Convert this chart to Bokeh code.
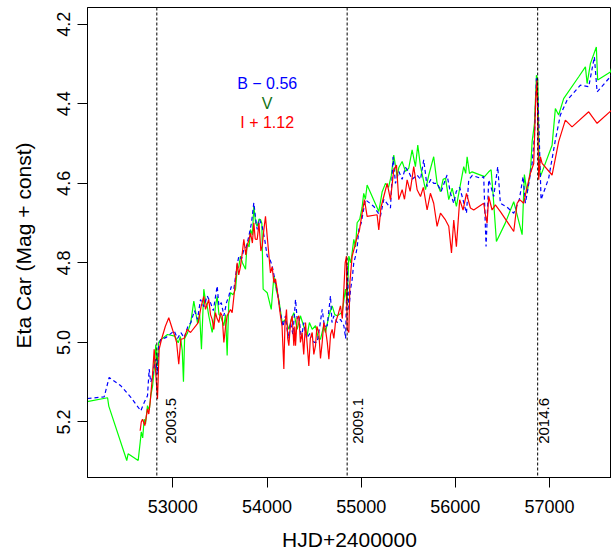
import numpy as np
from bokeh.plotting import figure
from bokeh.models import Range1d, FixedTicker, PrintfTickFormatter, Span, Label
from bokeh.embed import file_html
from bokeh.resources import INLINE

# ---------------- data (plotted values: B-0.56, V, I+1.12) ----------------
v_hjd = [52091, 52307, 52320, 52511, 52525, 52632, 52654, 52665, 52680, 52696, 52710, 52731,
         52750, 52766, 52785, 52802, 52819, 52835, 52850, 52872, 52943, 53021, 53057, 53080,
         53100, 53113, 53125, 53156, 53190, 53223, 53262, 53285, 53304, 53329, 53350, 53365,
         53382, 53418, 53440, 53453, 53471, 53490, 53506, 53542, 53560, 53577, 53594, 53613,
         53640, 53666, 53683, 53700, 53719, 53740, 53772, 53789, 53810, 53825, 53845, 53860,
         53880, 53896, 53915, 53931, 53945, 53959, 54002, 54045, 54073, 54100, 54126, 54161,
         54196, 54232, 54260, 54285, 54320, 54355, 54390, 54426, 54450, 54480, 54515, 54545,
         54568, 54600, 54621, 54657, 54692, 54720, 54745, 54798, 54833, 54850, 54869, 54890,
         54922, 54940, 54957, 54985, 55010, 55027, 55045, 55063, 55187, 55223, 55258, 55290,
         55320, 55346, 55382, 55400, 55435, 55470, 55505, 55541, 55576, 55601, 55630, 55683,
         55718, 55770, 55806, 55842, 55870, 55895, 55930, 55966, 56011, 56053, 56089, 56110,
         56125, 56150, 56178, 56310, 56354, 56380, 56401, 56436, 56530, 56620, 56709, 56733,
         56762, 56800, 56815, 56840, 56861, 56875, 56890, 56903, 57027, 57062, 57097, 57150,
         57310, 57381, 57399, 57434, 57497, 57511, 57646, 57665]
v_mag = [5.149, 5.139, 5.160, 5.297, 5.280, 5.297, 5.250, 5.225, 5.240, 5.193, 5.205, 5.159,
         5.170, 5.134, 5.110, 5.068, 5.005, 5.060, 5.000, 4.993, 4.980, 4.984, 5.001, 4.985,
         5.020, 5.099, 4.990, 4.976, 4.950, 4.896, 4.951, 4.930, 5.017, 4.866, 4.900, 4.909,
         4.933, 4.975, 4.940, 4.908, 4.884, 4.930, 4.933, 4.958, 4.930, 5.033, 4.900, 4.875,
         4.880, 4.866, 4.816, 4.810, 4.783, 4.800, 4.816, 4.750, 4.760, 4.716, 4.730, 4.658,
         4.700, 4.708, 4.690, 4.691, 4.700, 4.866, 4.875, 4.917, 4.833, 4.870, 4.892, 4.950,
         4.942, 4.967, 4.940, 4.925, 4.967, 4.933, 4.960, 4.983, 4.950, 4.967, 4.958, 4.990,
         4.992, 4.960, 4.975, 4.933, 4.908, 4.930, 4.933, 4.925, 4.866, 4.900, 4.783, 4.800,
         4.741, 4.760, 4.699, 4.690, 4.660, 4.625, 4.640, 4.604, 4.671, 4.621, 4.600, 4.610,
         4.580, 4.529, 4.583, 4.560, 4.545, 4.570, 4.562, 4.516, 4.558, 4.504, 4.558, 4.616,
         4.579, 4.533, 4.600, 4.621, 4.590, 4.587, 4.641, 4.612, 4.658, 4.604, 4.558, 4.575,
         4.533, 4.575, 4.571, 4.583, 4.571, 4.566, 4.629, 4.746, 4.700, 4.646, 4.729, 4.578,
         4.625, 4.560, 4.495, 4.450, 4.328, 4.340, 4.540, 4.583, 4.504, 4.412, 4.428, 4.387,
         4.332, 4.307, 4.349, 4.299, 4.257, 4.340, 4.320, 4.306]

b_hjd = [52094, 52271, 52324, 52448, 52554, 52660, 52680, 52696, 52731, 52749, 52765, 52784,
         52800, 52819, 52835, 52850, 52872, 52925, 53014, 53050, 53085, 53120, 53160, 53191,
         53230, 53262, 53294, 53330, 53365, 53400, 53430, 53471, 53489, 53515, 53542, 53570,
         53595, 53620, 53648, 53680, 53701, 53730, 53754, 53780, 53807, 53835, 53860, 53880,
         53896, 53920, 53949, 53975, 54002, 54030, 54055, 54090, 54115, 54143, 54170, 54196,
         54225, 54250, 54275, 54303, 54320, 54338, 54365, 54391, 54420, 54462, 54500, 54533,
         54560, 54586, 54610, 54639, 54674, 54690, 54710, 54745, 54780, 54816, 54835, 54851,
         54870, 54887, 54905, 54921, 54940, 54958, 54975, 55000, 55045, 55134, 55204, 55240,
         55311, 55339, 55364, 55400, 55435, 55470, 55505, 55540, 55594, 55630, 55664, 55700,
         55740, 55770, 55806, 55850, 55912, 55948, 55983, 56010, 56046, 56080, 56118, 56142,
         56180, 56266, 56301, 56326, 56354, 56380, 56407, 56450, 56478, 56550, 56620, 56680,
         56719, 56744, 56780, 56815, 56840, 56861, 56880, 56910, 56991, 57062, 57115, 57186,
         57328, 57416, 57476, 57505, 57660]
b_mag = [5.141, 5.137, 5.088, 5.109, 5.138, 5.172, 5.160, 5.151, 5.134, 5.067, 5.100, 5.088,
         5.060, 5.042, 5.080, 5.010, 4.992, 4.988, 4.971, 4.990, 4.975, 4.988, 4.960, 4.950,
         4.920, 4.942, 4.892, 4.910, 4.883, 4.900, 4.920, 4.858, 4.908, 4.900, 4.933, 4.900,
         4.883, 4.860, 4.866, 4.810, 4.783, 4.790, 4.766, 4.760, 4.733, 4.700, 4.649, 4.690,
         4.716, 4.690, 4.708, 4.740, 4.783, 4.790, 4.808, 4.850, 4.880, 4.925, 4.960, 4.933,
         4.990, 4.950, 4.980, 4.892, 4.940, 4.933, 4.990, 4.950, 4.990, 4.975, 5.000, 5.000,
         4.960, 4.917, 4.960, 4.958, 4.883, 4.950, 4.933, 4.950, 4.942, 4.958, 4.990, 4.808,
         4.920, 4.867, 4.840, 4.800, 4.783, 4.760, 4.716, 4.700, 4.641, 4.658, 4.683, 4.640,
         4.662, 4.533, 4.600, 4.570, 4.590, 4.560, 4.571, 4.590, 4.579, 4.590, 4.541, 4.608,
         4.590, 4.600, 4.600, 4.620, 4.579, 4.625, 4.650, 4.620, 4.610, 4.640, 4.675, 4.591,
         4.580, 4.587, 4.583, 4.759, 4.591, 4.610, 4.633, 4.558, 4.650, 4.660, 4.675, 4.640,
         4.583, 4.650, 4.600, 4.550, 4.480, 4.336, 4.400, 4.641, 4.587, 4.491, 4.428, 4.391,
         4.353, 4.357, 4.282, 4.370, 4.328]

i_hjd = [52653, 52665, 52678, 52703, 52731, 52745, 52759, 52784, 52802, 52837, 52855, 52880,
         52920, 52957, 53000, 53021, 53040, 53063, 53085, 53120, 53152, 53188, 53241, 53270,
         53300, 53329, 53347, 53382, 53400, 53418, 53435, 53453, 53470, 53489, 53506, 53524,
         53542, 53560, 53577, 53612, 53630, 53655, 53683, 53700, 53719, 53740, 53754, 53775,
         53789, 53810, 53825, 53845, 53860, 53875, 53896, 53915, 53935, 53949, 53965, 53984,
         54002, 54020, 54037, 54055, 54073, 54090, 54108, 54125, 54143, 54160, 54179, 54190,
         54207, 54220, 54232, 54250, 54267, 54285, 54295, 54303, 54320, 54338, 54355, 54373,
         54390, 54409, 54425, 54444, 54460, 54480, 54497, 54515, 54530, 54550, 54568, 54586,
         54603, 54621, 54640, 54657, 54675, 54692, 54710, 54727, 54755, 54780, 54800, 54816,
         54830, 54844, 54851, 54869, 54880, 54904, 54930, 54957, 54980, 55010, 55035, 55063,
         55169, 55187, 55210, 55240, 55276, 55311, 55346, 55375, 55399, 55435, 55460, 55488,
         55520, 55558, 55594, 55630, 55660, 55700, 55735, 55770, 55806, 55842, 55895, 55930,
         55959, 55983, 56011, 56046, 56082, 56118, 56160, 56195, 56301, 56319, 56337, 56354,
         56390, 56425, 56478, 56620, 56656, 56683, 56726, 56754, 56797, 56832, 56853, 56868,
         56885, 56903, 56921, 57027, 57097, 57168, 57239, 57416, 57505, 57660]
i_mag = [5.222, 5.200, 5.193, 5.209, 5.167, 5.180, 5.151, 5.084, 5.017, 5.142, 5.017, 4.992,
         4.960, 4.938, 4.970, 4.984, 5.000, 5.055, 4.992, 4.990, 4.967, 4.975, 4.959, 4.950,
         4.910, 4.884, 4.917, 4.892, 4.930, 4.942, 4.967, 4.925, 4.940, 4.950, 4.925, 4.933,
         5.000, 4.960, 4.933, 4.917, 4.925, 4.870, 4.800, 4.830, 4.808, 4.770, 4.741, 4.780,
         4.758, 4.740, 4.725, 4.750, 4.699, 4.740, 4.741, 4.700, 4.770, 4.758, 4.720, 4.683,
         4.733, 4.780, 4.825, 4.810, 4.850, 4.840, 4.867, 4.900, 4.933, 4.960, 5.067, 4.960,
         4.917, 4.990, 5.008, 4.950, 4.933, 5.008, 4.960, 5.008, 4.940, 4.933, 5.000, 4.975,
         5.030, 4.950, 5.000, 5.059, 4.990, 4.975, 5.030, 5.008, 4.960, 4.975, 5.040, 5.000,
         4.950, 4.967, 5.000, 5.042, 4.980, 4.967, 4.990, 4.950, 4.930, 4.908, 4.940, 4.867,
         4.800, 4.783, 4.967, 4.975, 4.850, 4.783, 4.760, 4.734, 4.720, 4.675, 4.641, 4.683,
         4.679, 4.717, 4.660, 4.633, 4.600, 4.641, 4.566, 4.554, 4.641, 4.616, 4.640, 4.591,
         4.620, 4.558, 4.616, 4.633, 4.610, 4.667, 4.625, 4.650, 4.708, 4.675, 4.692, 4.708,
         4.775, 4.692, 4.759, 4.641, 4.667, 4.625, 4.662, 4.667, 4.650, 4.679, 4.700, 4.633,
         4.667, 4.654, 4.671, 4.721, 4.650, 4.641, 4.650, 4.617, 4.575, 4.550, 4.391, 4.341,
         4.591, 4.533, 4.550, 4.579, 4.495, 4.441, 4.458, 4.420, 4.449, 4.416]

x_ticks = [53000, 54000, 55000, 56000, 57000]
y_ticks = [4.2, 4.4, 4.6, 4.8, 5.0, 5.2]
periastron_hjd = [52830, 54851, 56874]
periastron_labels = ["2003.5", "2009.1", "2014.6"]
periastron_label_hjd = [52981, 54969, 56942]
legend_texts = ["B \u2212 0.56", "V", "I + 1.12"]
legend_colors = ["#0000ff", "#137313", "#ff0000"]

FONT = "Liberation Sans"

p = figure(width=611, height=553, output_backend="svg", toolbar_location=None,
           x_range=Range1d(52094, 57658), y_range=Range1d(5.3396, 4.1578),
           min_border_left=87, min_border_right=0, min_border_top=7, min_border_bottom=74,
           background_fill_color="white", border_fill_color="white")
p.grid.visible = False
p.outline_line_color = "black"
p.outline_line_width = 1

# axes
p.xaxis.ticker = FixedTicker(ticks=x_ticks)
p.xaxis.formatter = PrintfTickFormatter(format="%d")
p.yaxis.ticker = FixedTicker(ticks=y_ticks)
p.yaxis.formatter = PrintfTickFormatter(format="%.1f")
p.yaxis.major_label_orientation = "vertical"
for ax in (p.xaxis, p.yaxis):
    ax.major_tick_out = 10
    ax.major_tick_in = 0
    ax.minor_tick_line_color = None
    ax.axis_line_color = "black"
    ax.major_tick_line_color = "black"
    ax.major_label_text_font = FONT
    ax.major_label_text_font_size = "18px"
    ax.major_label_text_color = "black"
    ax.axis_label_text_font = FONT
    ax.axis_label_text_font_size = "21px"
    ax.axis_label_text_font_style = "normal"
    ax.axis_label_text_color = "black"
p.xaxis.major_label_standoff = 12
p.xaxis.axis_label_standoff = 12
p.yaxis.major_label_standoff = 7
p.yaxis.axis_label_standoff = 20
p.xaxis.axis_label = "HJD+2400000"
p.yaxis.axis_label = "Eta Car  (Mag + const)"

# light curves
p.line(v_hjd, v_mag, line_color="#00ff00", line_width=1.2)
p.line(b_hjd, b_mag, line_color="#0000ff", line_width=1.2, line_dash="4 3")
p.line(i_hjd, i_mag, line_color="#ff0000", line_width=1.2)

# periastron markers
for xl, lab, xt in zip(periastron_hjd, periastron_labels, periastron_label_hjd):
    p.add_layout(Span(location=xl, dimension="height", line_color="black",
                      line_width=1, line_dash="3 2"))
    p.add_layout(Label(x=xt, y=5.255, text=lab, angle=np.pi / 2, text_align="left",
                       text_baseline="middle", text_font=FONT, text_font_size="15px",
                       text_color="black"))

# legend texts
for k, (txt, col) in enumerate(zip(legend_texts, legend_colors)):
    p.add_layout(Label(x=54002, y=4.348 + 0.05 * k, text=txt, text_align="center",
                       text_baseline="middle", text_font=FONT, text_font_size="16px",
                       text_color=col))

open("out.html", "w").write(file_html(p, INLINE))
